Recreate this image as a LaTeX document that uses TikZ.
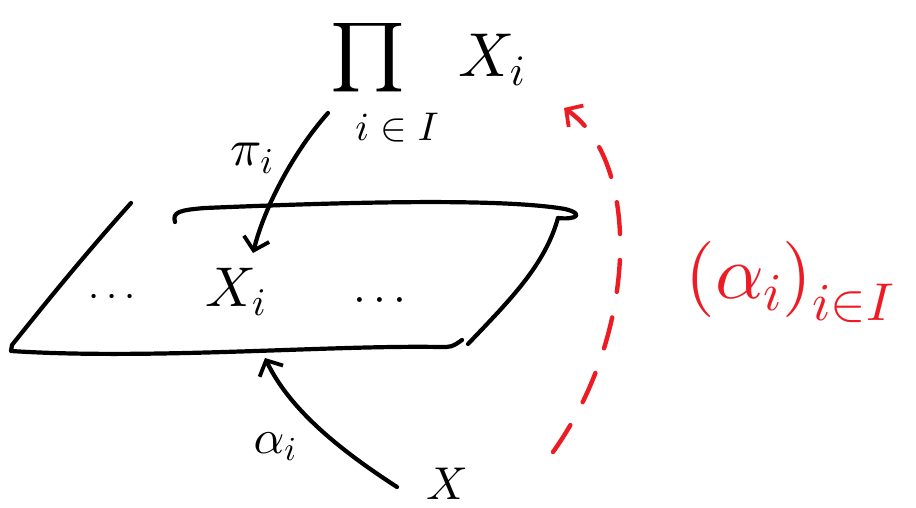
\documentclass[tikz,border=0pt]{standalone}
\DeclareFontShape{OML}{cmm}{m}{it}{<->cmmi10}{}
\DeclareFontShape{OMS}{cmsy}{m}{n}{<->cmsy10}{}
\DeclareFontShape{OMX}{cmex}{m}{n}{<->cmex10}{}
\DeclareFontShape{OT1}{cmr}{m}{n}{<->cmr10}{}
\usetikzlibrary{arrows.meta}
\definecolor{penred}{HTML}{ED1C24}
\begin{document}
\begin{tikzpicture}[x=1pt,y=-1pt, line cap=round, line join=round,
  ink/.style={line width=4.2pt, draw=black},
  redink/.style={line width=4.4pt, draw=penred},
  barb/.style={-{Straight Barb[length=12pt,width=26pt,line width=3.8pt]}},
  lbl/.style={inner sep=0pt, font=\fontsize{52}{52}\selectfont}]
\useasboundingbox[fill=white] (0,0) rectangle (916,508);
% labels
\node[lbl, font=\fontsize{76}{76}\selectfont] (prod) at (368,75) {\scalebox{1.07}[0.9]{\smash{$\prod$}}};
\node[lbl, font=\fontsize{62}{62}\selectfont] (Xtop) at (492,60) {$X_i$};
\node[lbl, font=\fontsize{40}{40}\selectfont] (sub) at (397,128) {$i\in I$};
\node[lbl] (pilab) at (252,158) {$\pi_i$};
\node[lbl, font=\fontsize{56}{56}\selectfont] (Xi) at (236,292) {$X_i$};
\node[lbl, font=\fontsize{40}{40}\selectfont] (dl) at (112,298) {$\cdots$};
\node[lbl, font=\fontsize{46}{46}\selectfont] (dr) at (380,301) {$\cdots$};
\node[lbl, font=\fontsize{48}{48}\selectfont] (alab) at (275,447) {$\alpha_i$};
\node[lbl, font=\fontsize{46}{46}\selectfont] (X) at (447,484) {$X$};
\node[lbl, text=penred, font=\fontsize{76}{76}\selectfont] (fam) at (790,282) {$\big(\alpha_i\big)_{i\in I}$};
% plane
\coordinate (tl) at (131,203);
\coordinate (bl) at (12,345);
\coordinate (br) at (462,340);
\coordinate (tr) at (558,218);
\draw[ink] (175,222) .. controls (172,212) and (180,210) .. (205,208)
  .. controls (350,202) and (500,198) .. (565,209)
  .. controls (585,214) and (576,220) .. (tr);
\draw[ink] (tr) .. controls (545,265) and (510,300) .. (468,344);
\draw[ink] (tl) .. controls (80,260) and (40,310) .. (bl) -- (11,351)
  .. controls (150,360) and (330,345) .. (440,347) .. controls (452,347) .. (br);
% projection
\coordinate (pistart) at (328,113);
\coordinate (pitip) at (253,253);
\draw[ink, barb] (pistart) .. controls (295,150) and (265,205) .. (pitip);
% alpha_i
\coordinate (astart) at (397,487);
\coordinate (atip) at (265,358);
\draw[ink, barb] (astart) .. controls (340,450) and (290,410) .. (atip);
% red dashed
\coordinate (rstart) at (553,452);
\coordinate (rtip) at (564,108);
\draw[redink, dash pattern=on 32pt off 26pt, barb] (rstart) .. controls (640,330) and (640,160) .. (rtip);
\end{tikzpicture}
\end{document}
